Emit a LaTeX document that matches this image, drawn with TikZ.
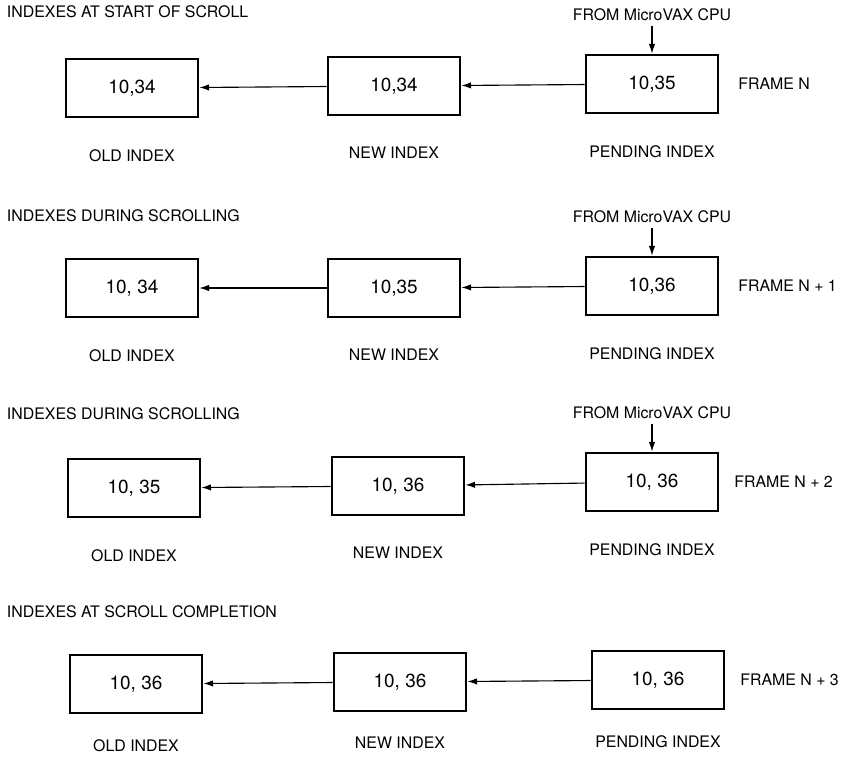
\documentclass[tikz,border=0pt]{standalone}
\usepackage{fontspec}
\setmainfont{TeX Gyre Heros}
\usetikzlibrary{arrows.meta,positioning}

\begin{document}
\begin{tikzpicture}[
    idxbox/.style={rectangle, draw, line width=2pt, minimum width=3.3cm, minimum height=1.45cm, align=center, font=\fontsize{13.5}{15}\selectfont},
    arrow/.style={-{Latex[length=2.4mm,width=1.6mm]}, thick},
    title/.style={anchor=west},
    every node/.style={font=\fontsize{11.3}{13}\selectfont}
]
    \useasboundingbox (0,0) rectangle (21.125,-19.05);

    % Frame N
    \node[title] (title1) at (0.05, -0.3) {INDEXES AT START OF SCROLL};
    \node[idxbox] (old1) at (3.3, -2.2) {10,34};
    \node[idxbox] (new1) at (9.85, -2.15) {10,34};
    \node[idxbox] (pend1) at (16.3, -2.1) {10,35};
    \node[above=0.7cm of pend1] (cpu1) {FROM MicroVAX CPU};
    \node[right=0.35cm of pend1] (frame1) {FRAME N};
    \node[below=0.65cm of old1] {OLD INDEX};
    \node[below=0.65cm of new1] {NEW INDEX};
    \node[below=0.65cm of pend1] {PENDING INDEX};

    % Frame N + 1
    \node[title] (title2) at (0.05, -5.4) {INDEXES DURING SCROLLING};
    \node[idxbox] (old2) at (3.3, -7.2) {10, 34};
    \node[idxbox] (new2) at (9.85, -7.2) {10,35};
    \node[idxbox] (pend2) at (16.3, -7.15) {10,36};
    \node[above=0.7cm of pend2] (cpu2) {FROM MicroVAX CPU};
    \node[right=0.35cm of pend2] (frame2) {FRAME N + 1};
    \node[below=0.65cm of old2] {OLD INDEX};
    \node[below=0.65cm of new2] {NEW INDEX};
    \node[below=0.65cm of pend2] {PENDING INDEX};

    % Frame N + 2
    \node[title] (title3) at (0.05, -10.35) {INDEXES DURING SCROLLING};
    \node[idxbox] (old3) at (3.35, -12.2) {10, 35};
    \node[idxbox] (new3) at (9.95, -12.15) {10, 36};
    \node[idxbox] (pend3) at (16.3, -12.05) {10, 36};
    \node[above=0.7cm of pend3] (cpu3) {FROM MicroVAX CPU};
    \node[right=0.25cm of pend3] (frame3) {FRAME N + 2};
    \node[below=0.65cm of old3] {OLD INDEX};
    \node[below=0.65cm of new3] {NEW INDEX};
    \node[below=0.65cm of pend3] {PENDING INDEX};

    % Frame N + 3
    \node[title] (title4) at (0.05, -15.3) {INDEXES AT SCROLL COMPLETION};
    \node[idxbox] (old4) at (3.4, -17.1) {10, 36};
    \node[idxbox] (new4) at (10.0, -17.05) {10, 36};
    \node[idxbox] (pend4) at (16.45, -17.0) {10, 36};
    \node[right=0.25cm of pend4] (frame4) {FRAME N + 3};
    \node[below=0.5cm of old4] {OLD INDEX};
    \node[below=0.5cm of new4] {NEW INDEX};
    \node[below=0.5cm of pend4] {PENDING INDEX};

    % Arrows
    \draw[arrow] (cpu1) -- (pend1);
    \draw[arrow] (pend1) -- (new1);
    \draw[arrow] (new1) -- (old1);
    \draw[arrow] (cpu2) -- (pend2);
    \draw[arrow] (pend2) -- (new2);
    \draw[arrow] (new2) -- (old2);
    \draw[arrow] (cpu3) -- (pend3);
    \draw[arrow] (pend3) -- (new3);
    \draw[arrow] (new3) -- (old3);
    \draw[arrow] (pend4) -- (new4);
    \draw[arrow] (new4) -- (old4);
\end{tikzpicture}
\end{document}
